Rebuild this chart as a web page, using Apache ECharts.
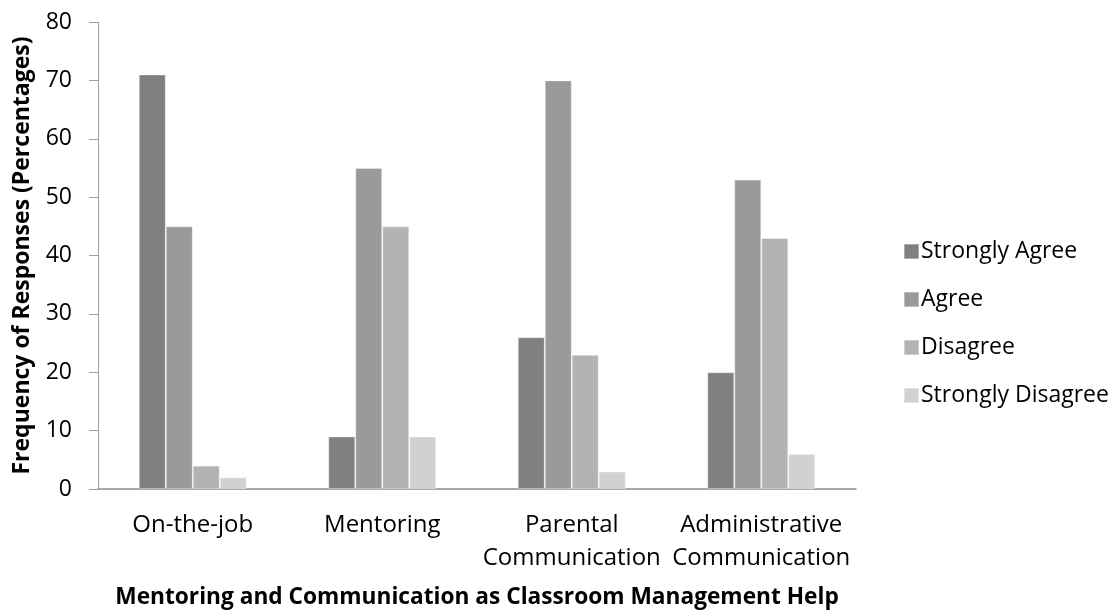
<!DOCTYPE html>
<html>
<head>
<meta charset="utf-8">
<script src="https://cdn.jsdelivr.net/npm/echarts@6/dist/echarts.min.js"></script>
<style>
html,body{margin:0;padding:0;background:#fff;}
#chart{width:1113px;height:611px;}
</style>
</head>
<body>
<div id="chart"></div>
<script>
var categories = ['On-the-job', 'Mentoring', 'Parental\nCommunication', 'Administrative\nCommunication'];
var seriesNames = ['Strongly Agree', 'Agree', 'Disagree', 'Strongly Disagree'];
var stronglyAgree = [71, 9, 26, 20];
var agree = [45, 55, 70, 53];
var disagree = [4, 45, 23, 43];
var stronglyDisagree = [2, 9, 3, 6];
var yTicks = [0, 10, 20, 30, 40, 50, 60, 70, 80];
var colors = ['#808080', '#9a9a9a', '#b3b3b3', '#d1d1d1'];

var FONT = 'Open Sans';
var values = [stronglyAgree, agree, disagree, stronglyDisagree];

var chart = echarts.init(document.getElementById('chart'));
chart.setOption({
  animation: false,
  textStyle: { fontFamily: FONT },
  grid: { left: 98, right: 257, top: 22, bottom: 122, containLabel: false, outerBoundsMode: 'none' },
  legend: {
    orient: 'vertical',
    left: 898,
    top: 235,
    icon: 'rect',
    itemWidth: 15,
    itemHeight: 15,
    itemGap: 25,
    textStyle: { fontFamily: FONT, fontSize: 23, color: '#000', lineHeight: 23, padding: [0, 0, 0, -3] },
    data: seriesNames
  },
  xAxis: {
    type: 'category',
    data: categories,
    name: 'Mentoring and Communication as Classroom Management Help',
    nameLocation: 'middle',
    nameGap: 97,
    nameTextStyle: { fontFamily: FONT, fontSize: 22.7, fontWeight: 'bold', color: '#000' },
    axisLine: { lineStyle: { color: '#8c8c8c', width: 1.5 } },
    axisTick: { show: false },
    axisLabel: { fontFamily: FONT, fontSize: 24, color: '#000', margin: 20, lineHeight: 33, interval: 0 }
  },
  yAxis: {
    type: 'value',
    min: yTicks[0],
    max: yTicks[yTicks.length - 1],
    interval: yTicks[1] - yTicks[0],
    name: 'Frequency of Responses (Percentages)',
    nameLocation: 'middle',
    nameGap: 64,
    nameTextStyle: { fontFamily: FONT, fontSize: 23, fontWeight: 'bold', color: '#000' },
    axisLine: { show: true, lineStyle: { color: '#a0a0a0', width: 1 } },
    axisTick: { show: true, inside: false, length: 9, lineStyle: { color: '#a0a0a0' } },
    splitLine: { show: false },
    axisLabel: { fontFamily: FONT, fontSize: 23, color: '#000', margin: 26 }
  },
  series: seriesNames.map(function (name, i) {
    return {
      name: name,
      type: 'bar',
      data: values[i],
      barGap: '0%',
      barCategoryGap: '43%',
      itemStyle: { color: colors[i], borderColor: 'rgba(255,255,255,0.35)', borderWidth: 1 }
    };
  })
});
</script>
</body>
</html>
